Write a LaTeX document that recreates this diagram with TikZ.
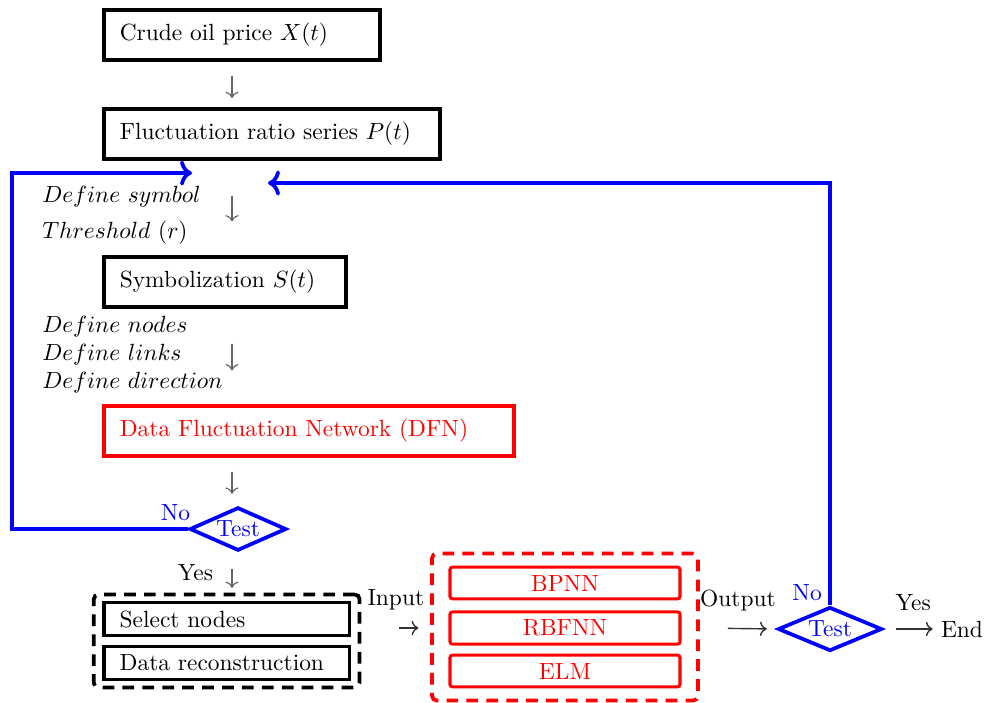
\documentclass[tikz,border=0pt]{standalone}
\usepackage{amsmath,amssymb}
\usepackage{tikz}
\usetikzlibrary{arrows.meta, positioning, shapes.geometric, fit}

\begin{document}
\begin{tikzpicture}[x=0.015cm, y=-0.015cm,
    blk/.style={draw, line width=1.6pt, align=left, inner xsep=6.8pt, minimum height=0.74cm},
    sm/.style={draw, line width=1.5pt, align=left, inner xsep=6.8pt, minimum height=0.5cm, text width=3.21cm},
    rbox/.style={draw=red, text=red, line width=1.3pt, rounded corners=1pt, minimum width=3.45cm, minimum height=0.47cm},
    dec/.style={draw=blue, text=blue, line width=1.6pt, diamond, aspect=2.2, inner sep=0pt, minimum width=1.45cm, minimum height=0.65cm},
    frm/.style={draw, line width=1.6pt, dash pattern=on 5pt off 3.5pt, rounded corners=2pt},
    garr/.style={-{Computer Modern Rightarrow}, black!60, line width=0.5pt},
    harr/.style={-{Computer Modern Rightarrow}, black!80, line width=0.6pt},
    lab/.style={text=black},
    back/.style={-{Computer Modern Rightarrow}, blue, line width=1.6pt},
    it/.style={anchor=west, align=left}]
  \useasboundingbox (0,0) rectangle (993,702);
  % main column
  \node[blk, anchor=west, text width=3.66cm] (crude) at (102,35) {Crude oil price $X(t)$};
  \node[blk, anchor=west, text width=4.56cm] (fluct) at (102,134) {Fluctuation ratio series $P(t)$};
  \node[blk, anchor=west, text width=3.15cm] (symb) at (102,282) {Symbolization $S(t)$};
  \node[blk, anchor=west, text width=5.67cm, draw=red, text=red] (dfn) at (102,431) {Data Fluctuation Network (DFN)};
  \node[dec] (test) at (238,529) {Test};
  \node[sm, anchor=west] (sel) at (102,619) {Select nodes};
  \node[sm, anchor=west] (rec) at (102,663) {Data reconstruction};
  \node[frm, fit=(sel)(rec), inner xsep=3.5pt, inner ysep=2.6pt] (grp) {};
  % models
  \node[rbox] (bp) at (565,583) {BPNN};
  \node[rbox] (rbf) at (565,628) {RBFNN};
  \node[rbox] (elm) at (565,671) {ELM};
  \node[frm, draw=red, fit=(bp)(elm), inner xsep=7pt, inner ysep=5.2pt] (mdl) {};
  \node[dec, minimum width=1.56cm, minimum height=0.66cm] (test2) at (830,629) {Test};
  \node (end) at (962,629) {End};
  % side notes
  \node[it] (sym) at (34,197) {$Define\ symbol$};
  \node[it] (thr) at (34,233) {$Threshold\ (r)$};
  \node[it] (def) at (34,355) {$Define\ nodes$\\ $Define\ links$\\ $Define\ direction$};
  % arrows
  \coordinate (stem) at (232,0);
  \draw[garr, shorten <=6pt, shorten >=4pt] (crude.south -| stem) -- (fluct.north -| stem);
  \draw[garr, shorten <=15pt, shorten >=14.5pt] (fluct.south -| stem) -- (symb.north -| stem);
  \draw[garr, shorten <=15pt, shorten >=14.5pt] (symb.south -| stem) -- (dfn.north -| stem);
  \draw[garr, shorten <=6pt, shorten >=5pt] (dfn.south -| stem) -- (test.north -| stem);
  \draw[garr, shorten <=7pt, shorten >=2pt] (test.south -| stem) -- node[lab, left=4.5pt]{Yes} (grp.north -| stem);
  \draw[harr, shorten <=16pt, shorten >=5pt] (grp.east |- rbf) -- node[lab, above=4pt]{Input} (mdl.west |- rbf);
  \draw[harr, shorten <=12pt, shorten >=4pt] (mdl.east |- rbf) -- node[lab, above=4pt]{Output} (test2.west);
  \draw[harr, shorten <=5pt] (test2.east) -- node[lab, above=4pt, pos=0.6]{Yes} (end.west);
  % feedback loops
  \coordinate (c1) at (12,173);
  \coordinate (t1) at (192,173);
  \coordinate (t2) at (268,183);
  \draw[back] (test.west) -| (c1) -- (t1);
  \draw[back] (test2.north) |- (t2);
  \node[blue, above left=0pt and -4.5pt of test.west] (no1) {No};
  \node[blue, above left=-1.5pt and 0pt of test2.north] (no2) {No};
\end{tikzpicture}
\end{document}
